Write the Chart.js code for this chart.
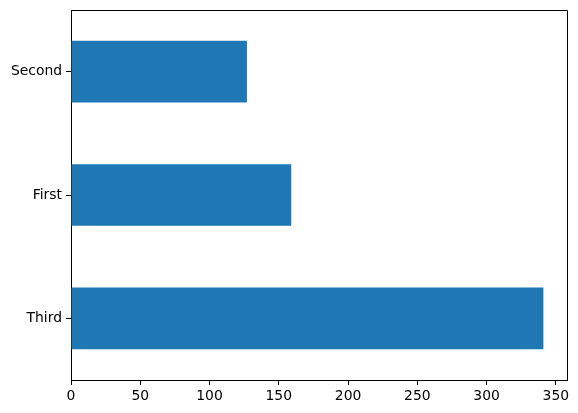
<!DOCTYPE html>
<html>
<head>
<meta charset="utf-8">
<script src="https://cdn.jsdelivr.net/npm/chart.js@4.4.0/dist/chart.umd.min.js"></script>
<style>
html,body{margin:0;padding:0;background:#fff;}
#wrap{width:578px;height:413px;position:relative;}
</style>
</head>
<body>
<div id="wrap"><canvas id="c" width="578" height="413"></canvas></div>
<script>
const categories = ['Second', 'First', 'Third'];
const counts = [127, 159, 341];
const xTicks = [0, 50, 100, 150, 200, 250, 300, 350];

const frame = {
  id: 'frame',
  afterDraw(chart) {
    const {ctx, chartArea: a} = chart;
    ctx.save();
    ctx.strokeStyle = '#000';
    ctx.lineWidth = 1;
    ctx.beginPath();
    ctx.moveTo(a.left, a.top + 0.5);
    ctx.lineTo(a.right + 0.5, a.top + 0.5);
    ctx.lineTo(a.right + 0.5, a.bottom);
    ctx.stroke();
    ctx.restore();
  }
};

new Chart(document.getElementById('c'), {
  type: 'bar',
  data: {
    labels: categories,
    datasets: [{
      data: counts,
      backgroundColor: '#1f77b4',
      borderWidth: 0,
      barPercentage: 0.5,
      categoryPercentage: 1.0
    }]
  },
  options: {
    indexAxis: 'y',
    responsive: false,
    animation: false,
    devicePixelRatio: 1,
    layout: {padding: {top: 10, right: 11, left: 0, bottom: 0}},
    plugins: {legend: {display: false}, tooltip: {enabled: false}},
    scales: {
      x: {
        type: 'linear',
        min: 0,
        max: Math.max(...counts) * 1.05,
        afterBuildTicks(scale) { scale.ticks = xTicks.map(v => ({value: v})); },
        afterFit(scale) { scale.height = 33; scale.paddingLeft = 0; scale.paddingRight = 0; },
        grid: {display: true, drawOnChartArea: false, drawTicks: true, tickLength: 5, color: '#000', lineWidth: 1},
        border: {display: true, color: '#000', width: 1},
        ticks: {color: '#000', font: {family: 'DejaVu Sans', size: 13.9}, padding: 3, maxRotation: 0, autoSkip: false}
      },
      y: {
        type: 'category',
        offset: true,
        afterFit(scale) { scale.width = 71; scale.paddingTop = 0; scale.paddingBottom = 0; },
        grid: {display: true, drawOnChartArea: false, drawTicks: true, tickLength: 5, color: '#000', lineWidth: 1, offset: false},
        border: {display: true, color: '#000', width: 1},
        ticks: {color: '#000', font: {family: 'DejaVu Sans', size: 13.9}, padding: 4}
      }
    }
  },
  plugins: [frame]
});
</script>
</body>
</html>
